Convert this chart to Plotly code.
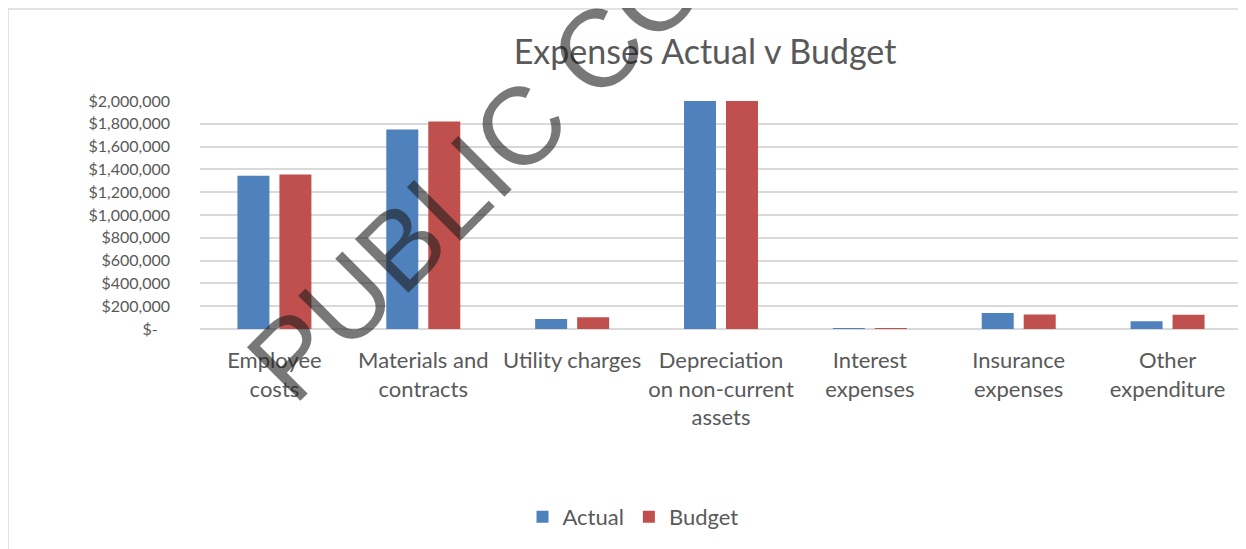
import plotly.graph_objects as go

categories = ["Employee<br>costs", "Materials and<br>contracts", "Utility charges",
              "Depreciation<br>on non-current<br>assets", "Interest<br>expenses",
              "Insurance<br>expenses", "Other<br>expenditure"]
actual = [1345000, 1750000, 88000, 2200000, 5000, 140000, 68000]
budget = [1355000, 1820000, 102000, 2250000, 7000, 128000, 125000]

tick_vals = [0, 200000, 400000, 600000, 800000, 1000000, 1200000, 1400000,
             1600000, 1800000, 2000000]
tick_text = ["$-\u00a0\u00a0\u00a0", "$200,000", "$400,000", "$600,000", "$800,000",
             "$1,000,000", "$1,200,000", "$1,400,000", "$1,600,000",
             "$1,800,000", "$2,000,000"]

FONT = "Lato"
GREY = "#595959"
GRID = "#D9D9D9"

# the page body adds an 8px offset; figure sized to fit the window
OFF = 8
W, H = 1246 - OFF, 549 - OFF

fig = go.Figure()
fig.add_trace(go.Bar(name="Actual", x=categories, y=actual, marker_color="#4F81BD",
                     marker_line_width=0))
fig.add_trace(go.Bar(name="Budget", x=categories, y=budget, marker_color="#C0504D",
                     marker_line_width=0))

# paper-coordinate helpers (plot area on screen: x 200..1242, y 101..329 px)
def px_x(px):
    return (px - 200) / 1042.0

def px_y(py):
    return (329 - py) / 228.0

ML, MT = 200 - OFF, 101 - OFF
fig.update_layout(
    width=W, height=H,
    margin=dict(l=ML, r=W - ML - 1042, t=MT, b=H - MT - 228, pad=0, autoexpand=False),
    paper_bgcolor="white", plot_bgcolor="white",
    barmode="group", bargap=0.436, bargroupgap=0.238,
    font=dict(family=FONT, color=GREY),
    title=dict(text="Expenses Actual v Budget", x=(705 - OFF) / W, xref="container",
               xanchor="center", y=1 - (52 - OFF) / H, yref="container", yanchor="middle",
               font=dict(size=34, family=FONT, color=GREY)),
    xaxis=dict(showgrid=False, showline=False, ticks="", tickangle=0, automargin=False,
               tickfont=dict(size=22, color=GREY), ticklabelstandoff=16, zeroline=False),
    yaxis=dict(range=[0, 2000000], tickvals=tick_vals, ticktext=tick_text,
               automargin=False, showgrid=True, gridcolor=GRID, gridwidth=1.5,
               zeroline=True, zerolinecolor=GRID, zerolinewidth=1.5, ticks="",
               tickfont=dict(size=16, color=GREY), ticklabelstandoff=29),
    legend=dict(orientation="h", x=px_x(633), xanchor="center", y=px_y(517),
                yanchor="middle", font=dict(size=22, color=GREY), itemwidth=30,
                bgcolor="rgba(0,0,0,0)"),
    showlegend=True,
)

# chart frame
fig.add_shape(type="rect", xref="paper", yref="paper", x0=px_x(8), x1=px_x(1260),
              y0=px_y(9), y1=px_y(560), line=dict(color=GRID, width=1.5),
              fillcolor="rgba(0,0,0,0)", layer="below")
fig.add_shape(type="line", xref="paper", yref="paper", x0=px_x(8), x1=px_x(1260),
              y0=px_y(3), y1=px_y(3), line=dict(color=GRID, width=1.5))
fig.add_shape(type="line", xref="paper", yref="paper", x0=px_x(8), x1=px_x(8),
              y0=px_y(3), y1=px_y(-5), line=dict(color=GRID, width=1.5))

# watermark
fig.add_annotation(text="PUBLIC COPY", xref="paper", yref="paper",
                   x=px_x(528), y=px_y(118), xanchor="center", yanchor="middle",
                   showarrow=False, textangle=-45,
                   font=dict(size=110, family="Liberation Sans", color="rgba(30,30,30,0.6)"))

fig.write_html("out.html")
